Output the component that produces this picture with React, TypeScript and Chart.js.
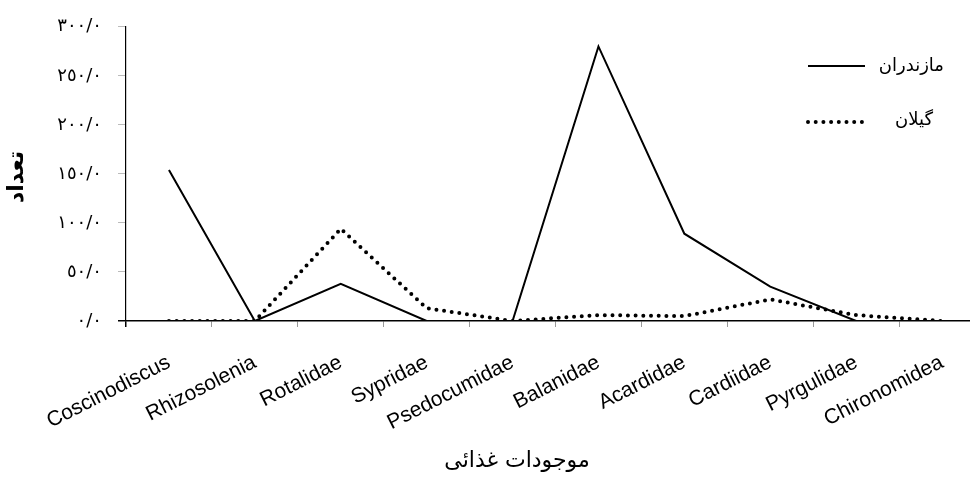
import React, { useEffect, useRef } from "react";
import { Chart, registerables } from "chart.js";

Chart.register(...registerables);

const categories = [
  "Coscinodiscus",
  "Rhizosolenia",
  "Rotalidae",
  "Sypridae",
  "Psedocumidae",
  "Balanidae",
  "Acardidae",
  "Cardiidae",
  "Pyrgulidae",
  "Chironomidea",
];
const mazandaran = [154, 0, 38, 0, 0, 280, 89, 35, 0, 0];
const gilan = [0, 0, 94, 13, 0, 6, 5, 22, 6, 0];
const seriesNames = ["مازندران", "گیلان"];
const yTitle = "تعداد";
const xTitle = "موجودات غذائی";
const yMin = 0;
const yMax = 300;
const yStep = 50;

const arabicDigits = ["٠", "١", "٢", "٣", "٤", "٥", "٦", "٧", "٨", "٩"];
const toArabic = (v: number) =>
  String(v)
    .split("")
    .map((c) => (c >= "0" && c <= "9" ? arabicDigits[Number(c)] : c))
    .join("") + "/٠";

const AR_FONT = "'DejaVu Sans', 'Liberation Serif', serif";

const overlayPlugin = {
  id: "overlay",
  afterDraw(chart: any) {
    const ctx = chart.ctx;
    ctx.save();
    // legend
    ctx.strokeStyle = "#000";
    ctx.lineWidth = 2;
    ctx.beginPath();
    ctx.moveTo(808, 66);
    ctx.lineTo(865, 66);
    ctx.stroke();
    ctx.lineWidth = 4;
    ctx.lineCap = "round";
    ctx.setLineDash([0, 7.7]);
    ctx.beginPath();
    ctx.moveTo(808, 122);
    ctx.lineTo(866, 122);
    ctx.stroke();
    ctx.setLineDash([]);
    ctx.fillStyle = "#000";
    ctx.font = "18px " + AR_FONT;
    ctx.textAlign = "right";
    ctx.textBaseline = "middle";
    ctx.fillText(seriesNames[0], 944, 66);
    ctx.fillText(seriesNames[1], 933, 120);
    // axis titles
    ctx.font = "22px " + AR_FONT;
    ctx.textAlign = "center";
    ctx.fillText(xTitle, 517, 461);
    ctx.translate(17, 177);
    ctx.rotate(-Math.PI / 2);
    ctx.font = "bold 22px " + AR_FONT;
    ctx.fillText(yTitle, 0, 0);
    ctx.restore();
  },
};

export default function App() {
  const ref = useRef<HTMLCanvasElement | null>(null);
  useEffect(() => {
    if (!ref.current) return;
    const chart = new Chart(ref.current, {
      type: "line",
      data: {
        labels: categories,
        datasets: [
          {
            label: seriesNames[0],
            data: mazandaran,
            borderColor: "#000",
            borderWidth: 2,
            pointRadius: 0,
            tension: 0,
            fill: false,
          },
          {
            label: seriesNames[1],
            data: gilan,
            borderColor: "#000",
            borderWidth: 4,
            borderDash: [0, 7.7],
            borderCapStyle: "round",
            pointRadius: 0,
            tension: 0,
            fill: false,
          },
        ],
      },
      options: {
        animation: false,
        responsive: true,
        maintainAspectRatio: false,
        layout: { padding: { top: 23, right: 5, left: 0, bottom: 0 } },
        plugins: {
          legend: { display: false },
          tooltip: { enabled: false },
        },
        scales: {
          x: {
            type: "category",
            offset: true,
            grid: {
              display: true,
              offset: true,
              drawOnChartArea: false,
              tickLength: 6,
              color: (c: any) => (c.index === 0 ? "#000" : "#999"),
              lineWidth: (c: any) => (c.index === 0 ? 1.5 : 1),
            },
            border: { color: "#000", width: 1.5 },
            ticks: {
              color: "#000",
              maxRotation: 27,
              minRotation: 27,
              autoSkip: false,
              padding: 23,
              font: { family: "'Liberation Sans', Arial, sans-serif", size: 21 },
            },
            afterFit: (s: any) => {
              s.height = 156;
            },
          },
          y: {
            min: yMin,
            max: yMax,
            grid: {
              display: true,
              drawOnChartArea: false,
              tickLength: 8,
              color: (c: any) => (c.tick && c.tick.value === 0 ? "#000" : "#bbb"),
              lineWidth: (c: any) => (c.tick && c.tick.value === 0 ? 1.5 : 1),
            },
            border: { color: "#000", width: 1.2 },
            ticks: {
              stepSize: yStep,
              color: "#000",
              padding: 16,
              font: { family: AR_FONT, size: 18 },
              callback: (v: any) => toArabic(Number(v)),
            },
            afterFit: (s: any) => {
              s.width = 126;
            },
          },
        },
      },
      plugins: [overlayPlugin],
    });
    return () => chart.destroy();
  }, []);
  return (
    <div
      style={{
        position: "fixed",
        left: 0,
        top: 0,
        width: 970,
        height: 477,
        overflow: "hidden",
        background: "#fff",
      }}
    >
      <div style={{ width: 990, height: 477, position: "relative" }}>
        <canvas ref={ref} />
      </div>
    </div>
  );
}
